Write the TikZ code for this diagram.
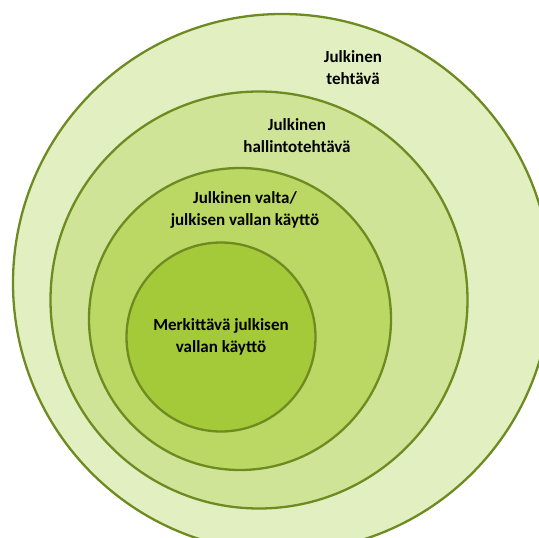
\documentclass[tikz,border=0pt]{standalone}
\usepackage{fontspec}
\setmainfont{Carlito}
\usepackage{xcolor}
\usepackage{tikz}
\usetikzlibrary{positioning}
\definecolor{ringline}{HTML}{6E8B22}
\definecolor{ringA}{HTML}{E2EFC0}
\definecolor{ringB}{HTML}{D0E498}
\definecolor{ringC}{HTML}{BBD865}
\definecolor{ringD}{HTML}{A5CA39}

\begin{document}
\begin{tikzpicture}[x=1pt,y=-1pt,
  ring/.style={circle, draw=ringline, line width=2.3pt, inner sep=0pt},
  lbl/.style={align=center, font=\bfseries\fontsize{17}{22}\selectfont, text=black}]
  \useasboundingbox (0,0) rectangle (539,538);
  \fill[white] (0,0) rectangle (539,538);
  % rings, outermost first
  \node[ring, fill=ringA, minimum size=538pt] (tehtava) at (282,283) {};
  \node[ring, fill=ringB, minimum size=417pt] (hallinto) at (259,300) {};
  \node[ring, fill=ringC, minimum size=302pt] (valta) at (240,319) {};
  \node[ring, fill=ringD, minimum size=189pt] (merkit) at (221,337) {};
  % labels
  \node[lbl] (tehtavaL) at (353,68) {Julkinen\\tehtävä};
  \node[lbl] (hallintoL) at (297,136) {Julkinen\\hallintotehtävä};
  \node[lbl] (valtaL) at (245,210) {Julkinen valta/\\julkisen vallan käyttö};
  \node[lbl] (merkitL) at (221,337) {Merkittävä julkisen\\vallan käyttö};
\end{tikzpicture}
\end{document}
